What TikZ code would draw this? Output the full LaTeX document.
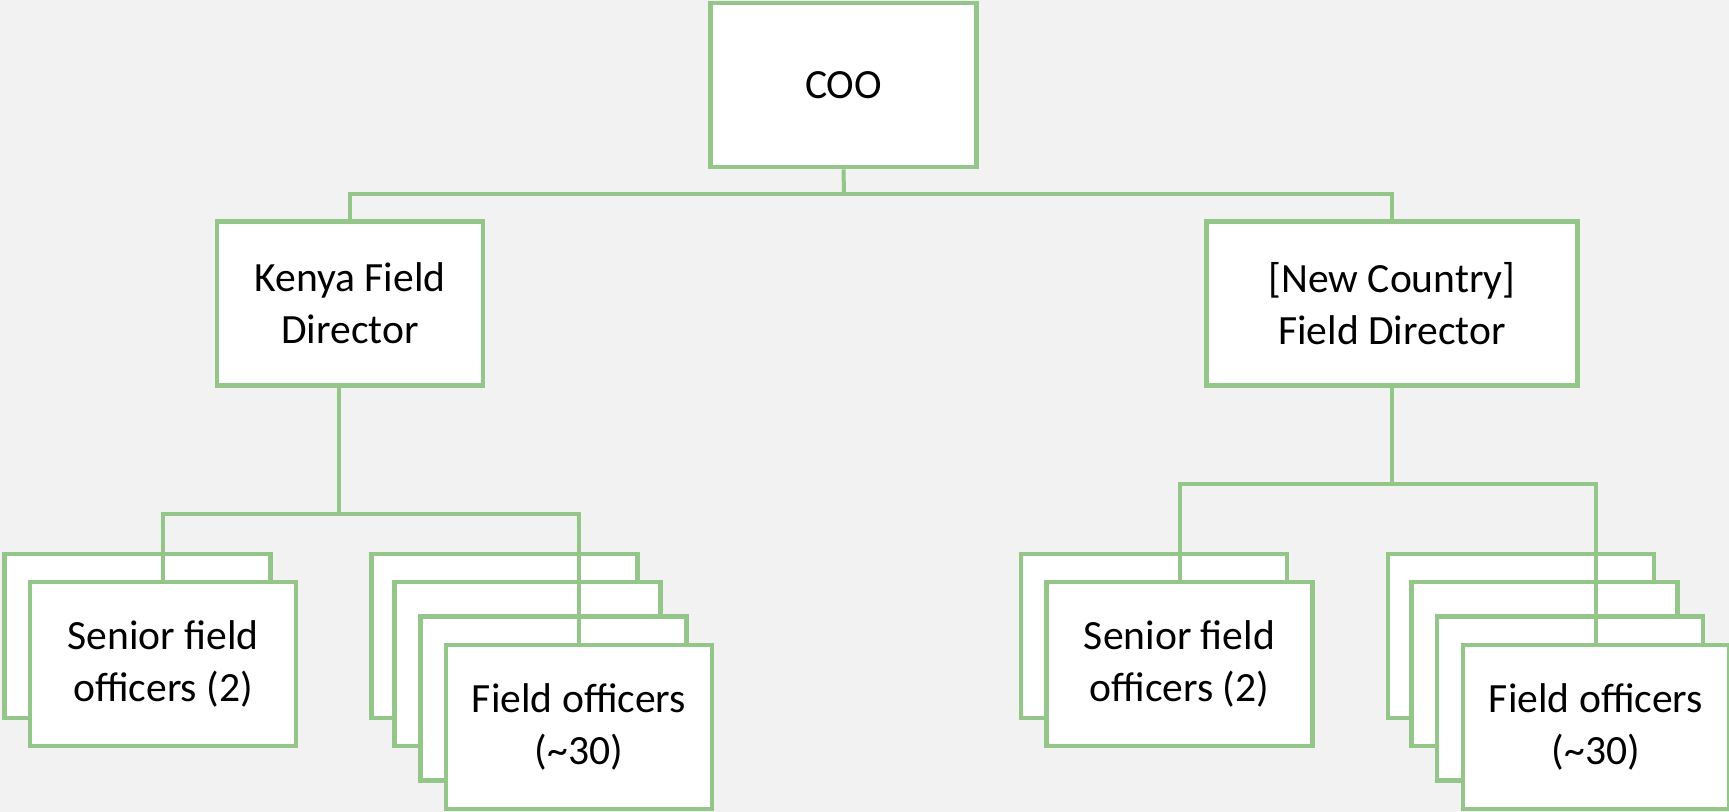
\documentclass[tikz,border=0pt]{standalone}
\usepackage{fontspec}
\setmainfont{Carlito}
\definecolor{linegreen}{RGB}{147,198,136}
\definecolor{bggray}{RGB}{242,242,242}
\tikzset{
  box/.style={draw=linegreen, line width=2.4pt, fill=white, minimum width=133pt, minimum height=82pt,
    inner sep=0pt, align=center, font=\fontsize{20.8}{26}\selectfont},
  conn/.style={draw=linegreen, line width=2pt}
}
\begin{document}
\begin{tikzpicture}[x=0.5pt,y=-0.5pt]
\fill[bggray] (0,0) rectangle (1729,812);
\useasboundingbox (0,0) rectangle (1729,812);
\node[box] (coo) at (843.5,85) {COO};
\node[box] (kenya) at (350,303.5) {Kenya Field\\Director};
\node[box, minimum width=185.5pt] (nc) at (1392,303.5) {[New Country]\\Field Director};
% left senior
\node[box] (lsb) at (137.5,636) {};
\node[box] (lsf) at (163,664) {Senior field\\officers (2)};
% left field officers
\node[box] (lf1) at (504.5,636) {};
\node[box] (lf2) at (527.5,664) {};
\node[box] (lf3) at (553.5,698.5) {};
\node[box] (lf4) at (579,727) {Field officers\\(\textasciitilde 30)};
% right senior
\node[box] (rsb) at (1154,636) {};
\node[box] (rsf) at (1179.5,664) {Senior field\\officers (2)};
% right field officers
\node[box] (rf1) at (1521,636) {};
\node[box] (rf2) at (1544.5,664) {};
\node[box] (rf3) at (1570,698.5) {};
\node[box] (rf4) at (1596,727) {Field officers\\(\textasciitilde 30)};
% connectors
\coordinate (h1) at (844,194);
\coordinate (k1) at (339,514);
\coordinate (n1) at (1392,484);
\draw[conn] (coo.south) -- (h1);
\draw[conn] (kenya.north) |- (h1) -| (nc.north);
\draw[conn] (kenya.south -| k1) -- (k1);
\draw[conn] (lsf.north) |- (k1) -| (lf4.north);
\draw[conn] (nc.south) -- (n1);
\draw[conn] (rsf.north) |- (n1) -| (rf4.north);
\end{tikzpicture}
\end{document}
